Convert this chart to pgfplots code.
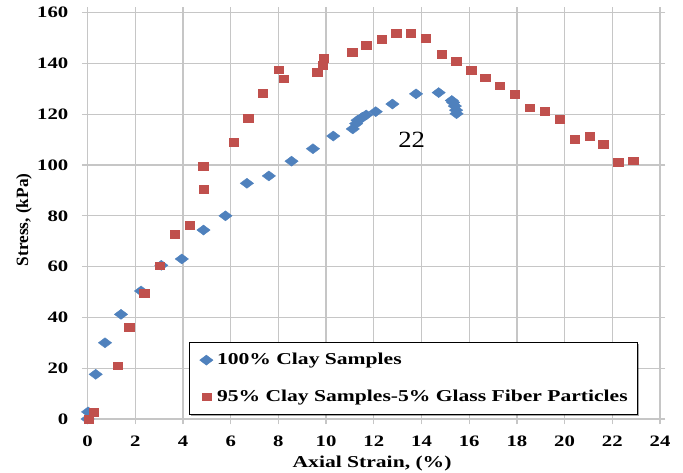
\documentclass[border=0pt]{standalone}
\usepackage{fontspec}
\setmainfont{Liberation Serif}
\newfontfamily\wideserif[FakeStretch=1.3]{Liberation Serif}
\newfontfamily\annofont[FakeStretch=1.15]{Liberation Serif}
\usepackage{pgfplots}
\usepackage{pgfplotstable}
\pgfplotsset{compat=1.18}
\usetikzlibrary{shadows}
\definecolor{cblue}{HTML}{4F81BD}
\definecolor{cred}{HTML}{C0504D}
\definecolor{gridgray}{HTML}{C6C6C6}

\pgfplotstableread{
x y
0 0
0.02 2.8
0.34 17.6
0.73 30.0
1.40 41.2
2.24 50.4
3.09 60.5
3.95 63.0
4.86 74.4
5.78 80.0
6.68 92.8
7.60 95.7
8.55 101.5
9.45 106.4
10.30 111.4
11.12 114.2
11.26 116.3
11.32 117.6
11.45 118.2
11.52 118.8
11.68 119.7
12.08 121.0
12.78 124.0
13.77 128.0
14.72 128.5
15.27 125.4
15.33 124.6
15.40 123.2
15.45 121.6
15.47 120.2
}\clay

\pgfplotstableread{
x y
0.05 0
0.27 2.8
1.27 21.0
1.75 36.0
2.37 49.6
3.03 60.4
3.65 72.7
4.27 76.4
4.87 90.6
4.85 99.6
6.13 109.1
6.73 118.4
7.34 128.2
8.02 137.5
8.21 134.0
9.63 136.5
9.85 139.4
9.91 142.0
11.10 144.4
11.68 147.2
12.32 149.5
12.94 152.0
13.56 152.0
14.19 149.9
14.84 143.7
15.45 141.0
16.08 137.4
16.67 134.4
17.29 131.2
17.92 127.8
18.54 122.6
19.16 121.3
19.79 118.0
20.41 110.1
21.04 111.4
21.62 108.3
22.25 101.1
22.88 101.7
}\fiber

\begin{document}
\begin{tikzpicture}
\begin{axis}[
  scale only axis, width=429.3bp, height=304.8bp,
  xmin=0, xmax=24, ymin=0, ymax=160,
  xtick={0,2,...,24}, ytick={0,20,...,160},
  grid=major, major grid style={gridgray, line width=1bp},
  axis line style={gridgray, line width=1bp},
  tick align=outside, major tick length=4bp,
  tick style={gridgray, line width=1bp},
  /pgf/number format/assume math mode=true,
  every tick label/.append style={font=\wideserif\bfseries\fontsize{12}{14}\selectfont, text=black},
  yticklabel style={xshift=-7bp},
  xticklabel style={yshift=-5bp},
  xlabel={Axial Strain, (\%)},
  ylabel={Stress, (kPa)},
  xlabel style={font=\wideserif\bfseries\fontsize{12.5}{14}\selectfont, at={(axis description cs:0.497,-0.1198)}, anchor=base},
  ylabel style={font=\bfseries\fontsize{13}{15}\selectfont, at={(axis description cs:-0.111,0.49)}, anchor=center},
  clip=false,
  legend cell align=left,
  legend image code/.code={\draw[#1] plot coordinates {(0bp,0bp)};},
  legend style={at={(axis cs:4.26,1.6)}, anchor=south west, draw=black, line width=0.75bp, fill=white,
    drop shadow={shadow xshift=1.2bp, shadow yshift=-1.2bp, fill=black, opacity=0.35},
    font=\wideserif\bfseries\fontsize{12.5}{14}\selectfont,
    inner xsep=7.5bp, inner ysep=7.5bp, row sep=16bp, column sep=3bp,
    nodes={inner sep=0pt, text height=9bp, text depth=2.5bp}},
]
\addplot[only marks, mark=diamond*, mark size=5bp, mark options={rotate=90, fill=cblue, draw=cblue, line width=0.3bp}] table {\clay};
\addlegendentry{100\% Clay Samples}
\addplot[only marks, mark=square*, mark size=2.9bp, mark options={xscale=1.2, fill=cred, draw=cred, line width=0.3bp}] table {\fiber};
\addlegendentry{95\% Clay Samples-5\% Glass Fiber Particles}
\node[font=\annofont\fontsize{17.5}{20}\selectfont] at (axis cs:13.59,109.8) {22};
\end{axis}
\pgfresetboundingbox
\path (-65.7bp,-40.5bp) rectangle (446.55bp,314.25bp);
\end{tikzpicture}
\end{document}
